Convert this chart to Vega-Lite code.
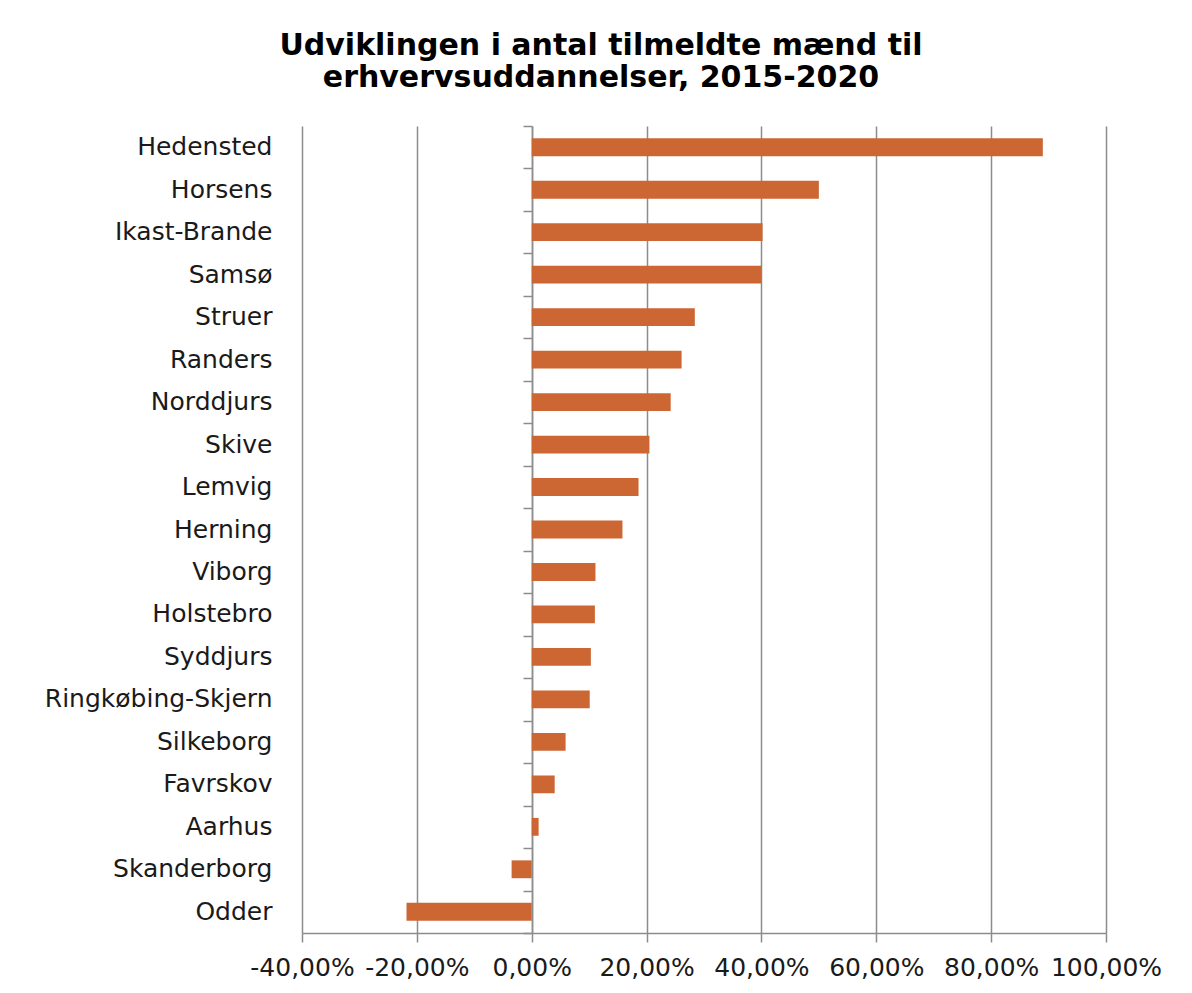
{
  "$schema": "https://vega.github.io/schema/vega-lite/v6.json",
  "autosize": "none",
  "width": 804,
  "height": 807,
  "padding": {"left": 302, "top": 126, "right": 86, "bottom": 60},
  "background": "white",
  "title": {
    "text": ["Udviklingen i antal tilmeldte mænd til", "erhvervsuddannelser, 2015-2020"],
    "font": "DejaVu Sans",
    "fontWeight": "bold",
    "fontSize": 30,
    "lineHeight": 32,
    "color": "#000000",
    "anchor": "middle",
    "frame": "group",
    "dx": -103,
    "offset": 32
  },
  "data": {
    "values": [
      {"kommune": "Hedensted", "andel": 0.89},
      {"kommune": "Horsens", "andel": 0.50},
      {"kommune": "Ikast-Brande", "andel": 0.402},
      {"kommune": "Samsø", "andel": 0.40},
      {"kommune": "Struer", "andel": 0.284},
      {"kommune": "Randers", "andel": 0.261},
      {"kommune": "Norddjurs", "andel": 0.242},
      {"kommune": "Skive", "andel": 0.205},
      {"kommune": "Lemvig", "andel": 0.186},
      {"kommune": "Herning", "andel": 0.158},
      {"kommune": "Viborg", "andel": 0.111},
      {"kommune": "Holstebro", "andel": 0.110},
      {"kommune": "Syddjurs", "andel": 0.103},
      {"kommune": "Ringkøbing-Skjern", "andel": 0.101},
      {"kommune": "Silkeborg", "andel": 0.059},
      {"kommune": "Favrskov", "andel": 0.040},
      {"kommune": "Aarhus", "andel": 0.012},
      {"kommune": "Skanderborg", "andel": -0.035},
      {"kommune": "Odder", "andel": -0.218}
    ]
  },
  "config": {
    "view": {"stroke": null},
    "axis": {"labelFont": "DejaVu Sans", "labelColor": "#1a1a1a", "labelFontSize": 25}
  },
  "layer": [
    {
      "mark": {"type": "bar", "color": "#CC6633"},
      "encoding": {
        "y": {
          "field": "kommune",
          "type": "nominal",
          "sort": null,
          "scale": {"paddingInner": 0.58, "paddingOuter": 0.29},
          "axis": {"title": null, "domain": false, "ticks": false, "labelPadding": 30, "labelLimit": 400}
        },
        "x": {
          "field": "andel",
          "type": "quantitative",
          "scale": {"domain": [-0.4, 1.0], "nice": false},
          "axis": {
            "title": null,
            "values": [-0.4, -0.2, 0, 0.2, 0.4, 0.6, 0.8, 1.0],
            "labelExpr": "(datum.value < 0 ? '-' : '') + replace(format(abs(datum.value) * 100, '.2f'), '.', ',') + '%'",
            "grid": true,
            "gridColor": "#8c8c8c",
            "gridWidth": 1.5,
            "domainColor": "#8c8c8c",
            "domainWidth": 1.5,
            "tickColor": "#8c8c8c",
            "tickWidth": 1.5,
            "tickSize": 9,
            "labelPadding": 13,
            "labelFlush": false
          }
        }
      }
    },
    {
      "mark": {"type": "rule", "color": "#8c8c8c", "strokeWidth": 1.5},
      "encoding": {
        "y": {
          "field": "kommune",
          "type": "nominal",
          "sort": null,
          "scale": {"paddingInner": 0, "paddingOuter": 0},
          "axis": {"title": null, "labels": false, "domain": true, "ticks": true, "tickBand": "extent", "offset": -230, "domainColor": "#8c8c8c", "domainWidth": 1.5, "tickColor": "#8c8c8c", "tickWidth": 1.5, "tickSize": 9, "orient": "left"}
        },
        "x": {"datum": 0, "type": "quantitative"},
        "opacity": {"value": 0}
      }
    }
  ],
  "resolve": {"scale": {"y": "independent"}, "axis": {"y": "independent"}}
}
